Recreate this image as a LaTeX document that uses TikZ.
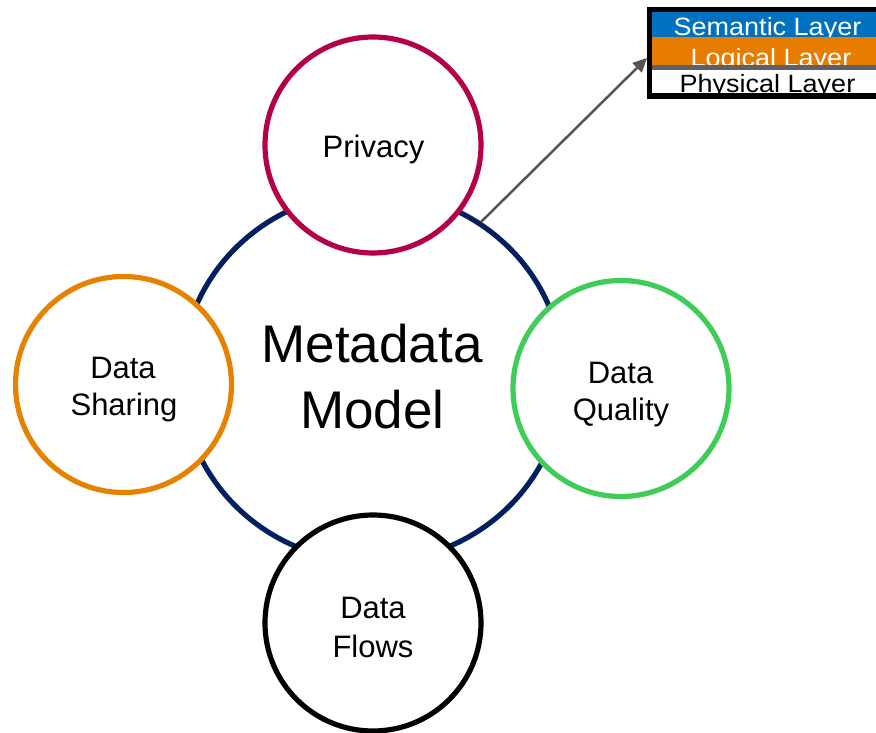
\documentclass[tikz,border=0pt]{standalone}
\usepackage{fontspec}
\setmainfont{Liberation Sans}
\usetikzlibrary{shapes.geometric,arrows.meta}
\definecolor{navyc}{RGB}{0,32,96}
\definecolor{redc}{RGB}{180,0,72}
\definecolor{orangec}{RGB}{230,130,0}
\definecolor{greenc}{RGB}{64,204,88}
\definecolor{legblue}{RGB}{0,112,192}
\definecolor{legorange}{RGB}{230,125,0}
\definecolor{leggray}{RGB}{95,95,105}
\definecolor{arrowgray}{RGB}{85,85,85}
\begin{document}
\begin{tikzpicture}[x=1pt,y=-1pt,
  smallc/.style={circle,line width=5.2pt,fill=white,minimum size=216pt,inner sep=0pt},
  lbl/.style={anchor=base,font=\fontsize{31}{36}\selectfont,inner sep=0pt},
  biglbl/.style={anchor=base,font=\fontsize{53}{64}\selectfont,inner sep=0pt},
  leglbl/.style={anchor=base,font=\fontsize{25}{30}\selectfont,inner sep=0pt},
  conn/.style={draw=arrowgray,line width=2.5pt,-{Triangle[length=14pt,width=13pt]}}]
\useasboundingbox (0,0) rectangle (876,733);
\clip (0,0) rectangle (876,733);
% central model
\node[ellipse,draw=navyc,line width=5.2pt,minimum width=382pt,minimum height=370pt,inner sep=0pt] (mm) at (372.5,377) {};
\coordinate (legpt) at (647,58);
\draw[conn] (mm.55) -- (legpt);
% satellites
\node[smallc,draw=redc] (priv) at (373,145) {};
\node[smallc,draw=orangec] (shar) at (123.5,384.5) {};
\node[smallc,draw=greenc] (qual) at (621,388.5) {};
\node[smallc,draw=black] (flow) at (373,623) {};
% texts
\node[biglbl] (mm1) at (372,362) {Metadata};
\node[biglbl] (mm2) at (372.5,428) {Model};
\node[lbl] (priv1) at (373.5,158) {Privacy};
\node[lbl] (shar1) at (123,378) {Data};
\node[lbl] (shar2) at (124,415) {Sharing};
\node[lbl] (qual1) at (620.5,383) {Data};
\node[lbl] (qual2) at (621,420) {Quality};
\node[lbl] (flow1) at (373,618) {Data};
\node[lbl] (flow2) at (373,657) {Flows};
% legend
\fill[black] (647,7) rectangle (890,99);
\begin{scope}
  \clip (652,12) rectangle (890,37.3);
  \fill[legblue] (652,12) rectangle (890,37.3);
  \node[leglbl,text=white] (sem) at (767.5,35.5) {\scalebox{1.08}[1]{Semantic Layer}};
\end{scope}
\begin{scope}
  \clip (652,37.3) rectangle (890,65);
  \fill[legorange] (652,37.3) rectangle (890,65);
  \node[leglbl,text=white] (logi) at (771,66.5) {\scalebox{1.08}[1]{Logical Layer}};
\end{scope}
\fill[leggray] (652,65) rectangle (890,70);
\begin{scope}
  \clip (652,70) rectangle (890,93.5);
  \fill[white] (652,70) rectangle (890,93.5);
  \node[leglbl,text=black] (phys) at (767.5,93) {\scalebox{1.08}[1]{Physical Layer}};
\end{scope}
\end{tikzpicture}
\end{document}
